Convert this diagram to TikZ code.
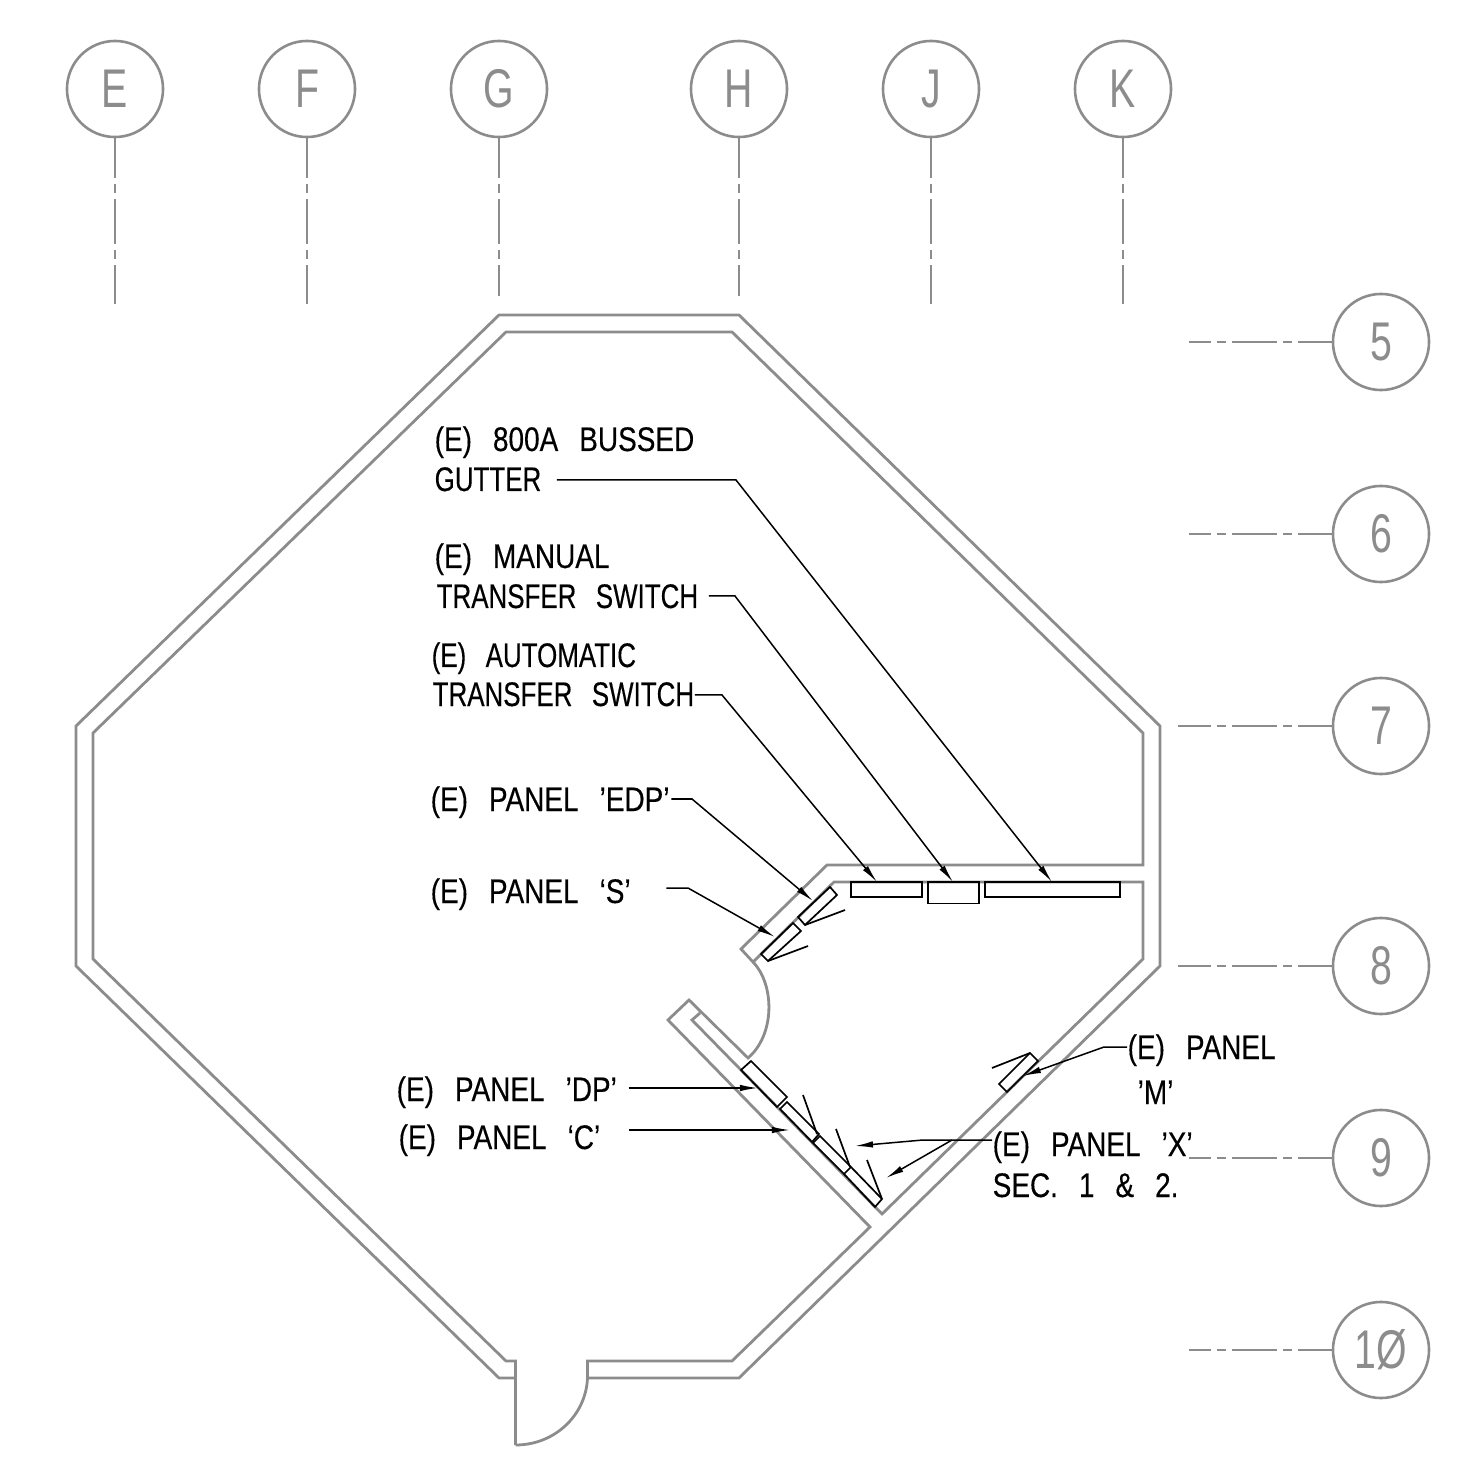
\documentclass[tikz,border=0pt]{standalone}
\usepackage{fontspec}
\usepackage{tikz}
\usetikzlibrary{arrows.meta}
\newfontfamily\notefont[FakeStretch=0.82,FakeBold=0.3,WordSpace=2.7]{Liberation Sans}
\newfontfamily\tightfont[FakeStretch=0.76,FakeBold=0.3,WordSpace=2.7]{Liberation Sans}
\newfontfamily\bubblefont[FakeStretch=0.72]{Liberation Sans}
\definecolor{wallgray}{HTML}{8C8C8C}
\tikzset{
  wall/.style={draw=wallgray, line width=0.28mm, line join=miter},
  bubble/.style={circle, draw=wallgray, line width=0.26mm, minimum size=9.6mm, inner sep=0pt,
    text=wallgray, font=\bubblefont\fontsize{15.5pt}{16pt}\selectfont},
  gridline/.style={draw=wallgray, line width=0.28mm, dash pattern=on 4.5mm off 0.6mm on 0.9mm off 0.6mm},
  panel/.style={draw=black, line width=0.17mm, line join=miter},
  leader/.style={draw=black, line width=0.15mm, -{Latex[length=1.8mm,width=0.65mm]}},
  note/.style={anchor=base west, inner sep=0pt, text height=2.5mm, text depth=0pt,
    font=\notefont\fontsize{9.7pt}{10pt}\selectfont},
  tightnote/.style={note, font=\tightfont\fontsize{9.7pt}{10pt}\selectfont},
}
\begin{document}
\begin{tikzpicture}[x=0.01cm,y=-0.01cm]
      \useasboundingbox (0,0) rectangle (1469,1458);
      % column and row marks
      \foreach \lab/\xpos/\yend/\phase in {E/115/304/0.5,F/307/304/0.5,G/499/296/0.5,H/739/296/0.5,J/931/304/0.5,K/1123/304/0.5}{
        \node[bubble] (bubble\lab) at (\xpos,89) {\lab};
        \coordinate (end\lab) at (\xpos,\yend);
        \draw[gridline, dash phase=\phase mm] (bubble\lab) -- (end\lab);
      }
      \foreach \lab/\txt/\ypos/\xend in {five/5/342/1189,six/6/534/1189,seven/7/726/1178,eight/8/966/1178,nine/9/1158/1189,ten/1Ø/1350/1189}{
        \node[bubble] (bubble\lab) at (1381,\ypos) {\txt};
        \coordinate (end\lab) at (\xend,\ypos);
        \draw[gridline, dash phase=1.1mm] (bubble\lab) -- (end\lab);
      }
      % walls
      \draw[wall] (515.5,1378) -- (499,1378) -- (76,966) -- (76,726) -- (499,315) -- (739,315) -- (1160,726) -- (1160,966) -- (739,1378) -- (587.5,1378);
      \draw[wall] (515.5,1445) -- (515.5,1361) -- (506,1361) -- (93,959) -- (93,733) -- (506,332) -- (732,332) -- (1143,733) -- (1143,865) -- (827,865) -- (741,949) -- (753,962)
        .. controls (775,985) and (775,1035) .. (748,1058) -- (689,1000) -- (668,1020) -- (870,1227) -- (732,1361) -- (587.5,1361) -- (587.5,1378)
        .. controls (586,1415) and (555,1445) .. (515.5,1445);
      \draw[wall] (700,1013) -- (692,1020) -- (882,1214) -- (1143,959) -- (1143,882) -- (834,882) -- (753,962);
      % panels
      \draw[panel] (851,882) rectangle (922,897);
      \draw[panel] (928,882) rectangle (979,903.5);
      \draw[panel] (985,882) rectangle (1120,897);
      \draw[panel] (830,887) -- (837,895) -- (805,925) -- (798,917) -- cycle;
      \draw[panel] (805,925) -- (845,910);
      \draw[panel] (793,923) -- (801,931) -- (768,961) -- (761,954) -- cycle;
      \draw[panel] (768,961) -- (808,946);
      \draw[panel] (1030,1053) -- (1038,1061) -- (1007,1092) -- (999,1084) -- cycle;
      \draw[panel] (1030,1053) -- (992,1068);
      \draw[panel] (751,1061) -- (787,1097) -- (777,1107) -- (741,1070) -- cycle;
      \draw[panel] (787,1102) -- (819,1134) -- (812,1142) -- (780,1109) -- cycle;
      \draw[panel] (817,1134) -- (803,1095);
      \draw[panel] (820,1136) -- (851,1167) -- (844,1174) -- (813,1143) -- cycle;
      \draw[panel] (850,1167) -- (836,1129);
      \draw[panel] (851,1167) -- (882,1199) -- (875,1207) -- (844,1174);
      \draw[panel] (882,1199) -- (867,1160);
      % labels
      \node[note] (busTop) at (434,451) {(E) 800A BUSSED};
      \node[tightnote] (busLbl) at (434,491) {GUTTER};
      \node[note] (mtsTop) at (434,568) {(E) MANUAL};
      \node[tightnote] (mtsLbl) at (436,608) {TRANSFER SWITCH};
      \node[tightnote] (atsTop) at (431,667) {(E) AUTOMATIC};
      \node[tightnote] (atsLbl) at (432,706) {TRANSFER SWITCH};
      \node[note] (edpLbl) at (430,811) {(E) PANEL ’EDP’};
      \node[note] (sLbl) at (430,903) {(E) PANEL ‘S’};
      \node[note] (dpLbl) at (396,1101) {(E) PANEL ’DP’};
      \node[note] (cLbl) at (398,1149) {(E) PANEL ‘C’};
      \node[note] (mLbl) at (1127,1059) {(E) PANEL};
      \node[note] (mName) at (1137,1104) {’M’};
      \node[note] (xLbl) at (992,1156) {(E) PANEL ’X’};
      \node[note] (xSec) at (992,1197) {SEC. 1 \& 2.};
      % leaders
      \coordinate (busBend) at (736,480);
      \coordinate (busTip) at (1052,882);
      \coordinate (mtsBend) at (735,596);
      \coordinate (mtsTip) at (953,882);
      \coordinate (atsBend) at (722,695);
      \coordinate (atsTip) at (877,882);
      \coordinate (edpBend) at (692,799);
      \coordinate (edpTip) at (813,901);
      \coordinate (sBend) at (688,888);
      \coordinate (sTip) at (775,937);
      \coordinate (dpTip) at (758,1088);
      \coordinate (cTip) at (790,1130);
      \coordinate (mBend) at (1104,1047);
      \coordinate (mTip) at (1023,1076);
      \coordinate (xBend) at (923,1140);
      \coordinate (xFork) at (952,1140);
      \coordinate (xTipA) at (855,1146);
      \coordinate (xTipB) at (886,1178);
      \draw[leader, shorten <=1.5mm] (busLbl.east |- busBend) -- (busBend) -- (busTip);
      \draw[leader, shorten <=1mm] (mtsLbl.east |- mtsBend) -- (mtsBend) -- (mtsTip);
      \draw[leader] (atsLbl.east |- atsBend) -- (atsBend) -- (atsTip);
      \draw[leader, shorten <=0.1mm] (edpLbl.east |- edpBend) -- (edpBend) -- (edpTip);
      \draw[leader, shorten <=3.5mm] (sLbl.east |- sBend) -- (sBend) -- (sTip);
      \draw[leader, shorten <=1.1mm] (dpLbl.east |- dpTip) -- (dpTip);
      \draw[leader, shorten <=2.8mm] (cLbl.east |- cTip) -- (cTip);
      \draw[leader] (mLbl.west |- mBend) -- (mBend) -- (mTip);
      \draw[leader] (xLbl.west |- xBend) -- (xBend) -- (xTipA);
      \draw[leader] (xFork) -- (xTipB);
\end{tikzpicture}
\end{document}
